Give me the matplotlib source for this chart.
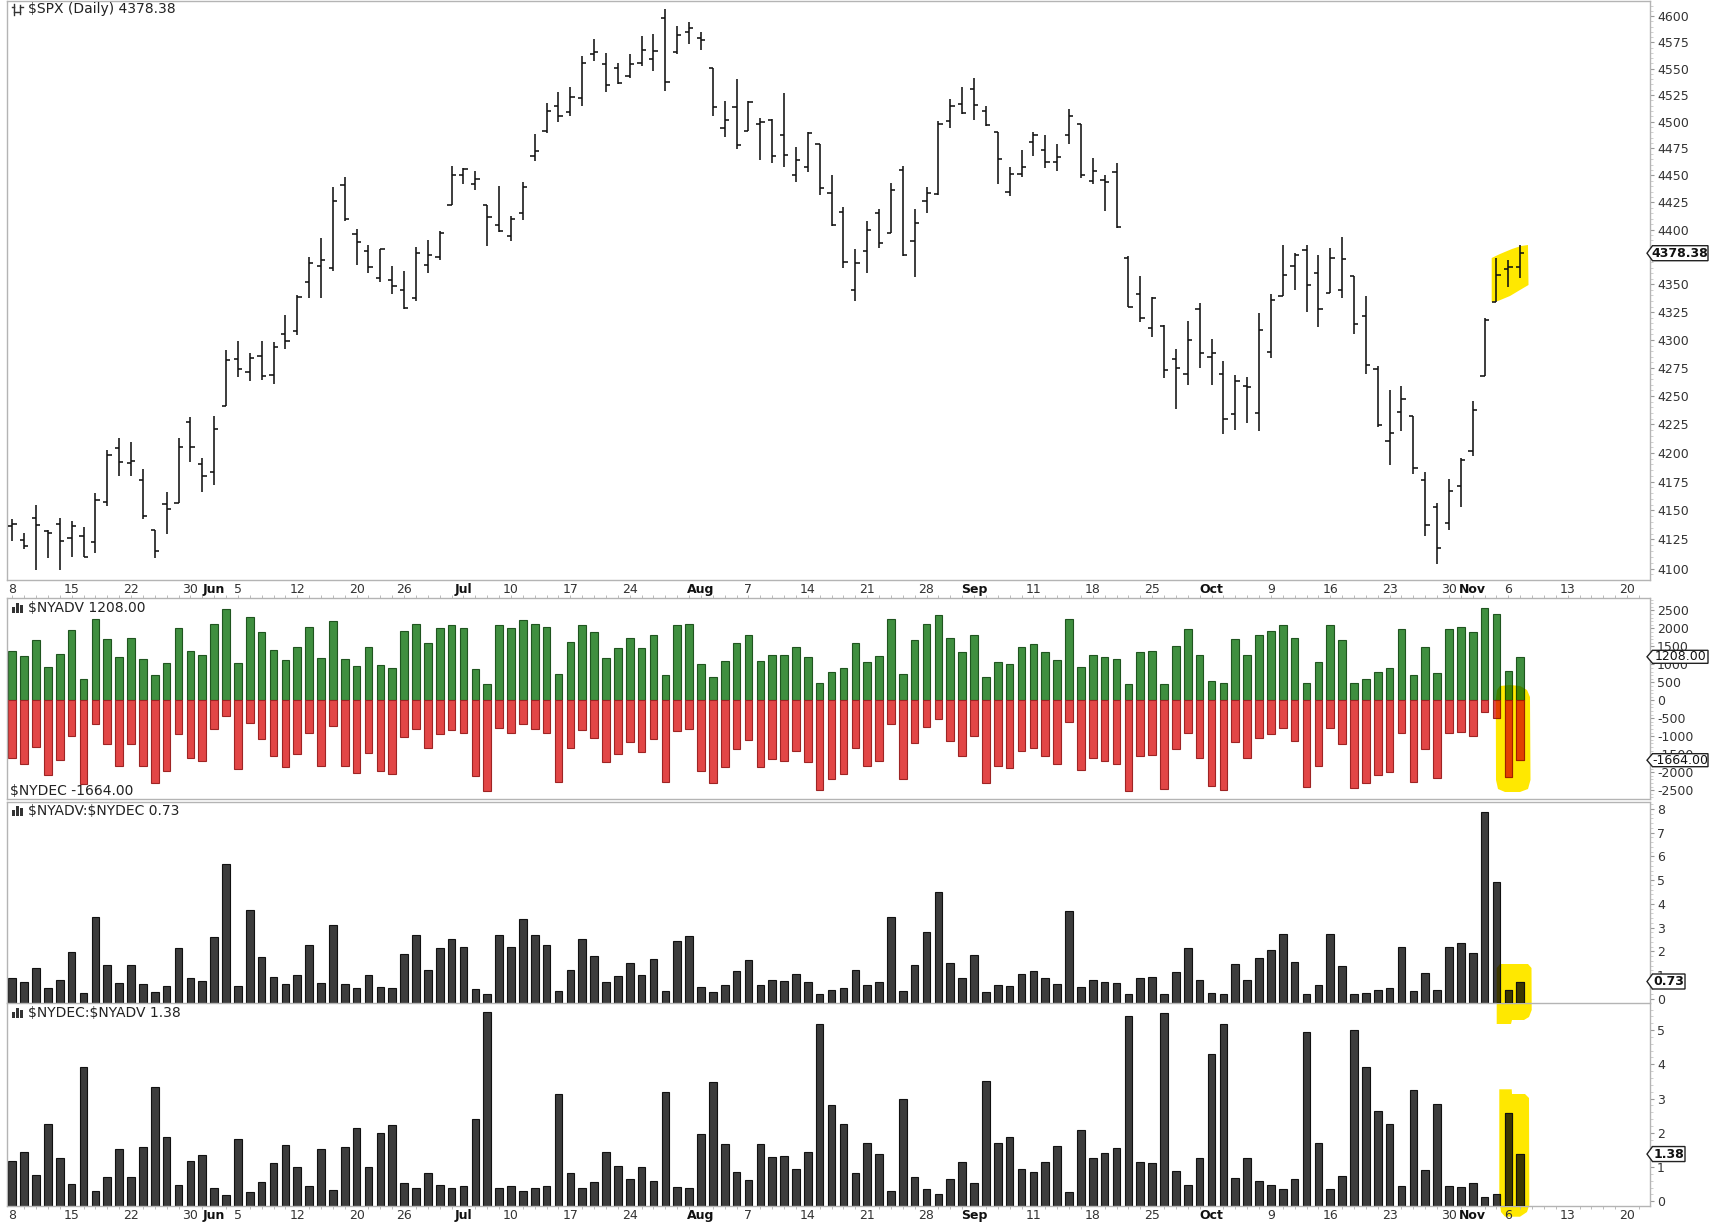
import numpy as np
import pandas as pd
import matplotlib
matplotlib.use('Agg')
import matplotlib.pyplot as plt
from matplotlib.collections import LineCollection
from matplotlib.patches import Polygon, Rectangle
from matplotlib.lines import Line2D
from matplotlib.transforms import Affine2D, IdentityTransform
from matplotlib.ticker import FixedLocator, FuncFormatter, NullFormatter

# ---------------- data ----------------
opens = [4136.98, 4124.25, 4143.74, 4132.24, 4138.54, 4126.65, 4127.95, 4122.85, 4157.68, 4204.15,
         4190.78, 4176.80, 4132.96, 4155.71, 4156.16, 4226.71, 4190.74, 4183.03, 4241.01, 4282.99,
         4271.34, 4285.47, 4268.69, 4304.88, 4308.32, 4352.61, 4366.29, 4365.33, 4440.95, 4396.11,
         4380.01, 4355.40, 4354.17, 4344.84, 4337.36, 4367.48, 4374.94, 4422.44, 4450.48, 4442.04,
         4422.62, 4404.54, 4394.23, 4415.55, 4467.69, 4491.50, 4514.61, 4508.86, 4521.78, 4563.87,
         4554.38, 4550.16, 4543.39, 4555.19, 4558.96, 4598.26, 4565.75, 4584.82, 4578.83, 4550.93,
         4494.27, 4513.96, 4491.58, 4498.03, 4501.57, 4487.16, 4450.69, 4458.13, 4478.87, 4433.79,
         4416.32, 4344.88, 4380.28, 4415.33, 4396.44, 4455.16, 4389.38, 4426.03, 4432.75, 4500.34,
         4517.01, 4530.60, 4510.06, 4490.35, 4434.55, 4451.30, 4480.98, 4473.27, 4462.65, 4487.78,
         4497.98, 4445.13, 4445.41, 4452.81, 4374.36, 4341.74, 4310.62, 4312.88, 4282.63, 4269.65,
         4328.18, 4284.52, 4269.75, 4233.83, 4259.31, 4234.79, 4289.02, 4339.75, 4366.59, 4380.94,
         4360.49, 4342.37, 4345.23, 4357.35, 4321.36, 4273.85, 4210.40, 4235.79, 4232.42, 4175.99,
         4152.94, 4139.39, 4171.33, 4201.27, 4268.26, 4334.23, 4364.27, 4366.21]
highs = [4142.30, 4130.35, 4154.28, 4132.80, 4143.74, 4141.25, 4135.54, 4164.67, 4202.20, 4212.91,
         4209.22, 4185.68, 4132.96, 4165.74, 4212.87, 4231.10, 4195.44, 4232.43, 4290.67, 4299.28,
         4288.33, 4299.19, 4298.01, 4322.62, 4340.13, 4375.37, 4391.82, 4439.20, 4448.47, 4400.15,
         4386.22, 4382.25, 4366.55, 4362.06, 4384.42, 4390.35, 4398.39, 4458.48, 4456.46, 4454.06,
         4422.62, 4440.39, 4412.60, 4443.64, 4488.34, 4517.38, 4527.76, 4532.85, 4562.30, 4578.43,
         4564.74, 4555.00, 4563.41, 4580.62, 4582.47, 4607.07, 4590.16, 4594.22, 4584.62, 4550.93,
         4519.49, 4540.34, 4519.84, 4503.31, 4502.44, 4527.37, 4476.23, 4490.33, 4478.87, 4449.95,
         4421.17, 4381.82, 4407.55, 4418.59, 4443.18, 4458.30, 4418.46, 4439.56, 4500.14, 4521.65,
         4532.26, 4541.25, 4514.29, 4490.35, 4457.81, 4473.53, 4490.77, 4487.11, 4479.39, 4511.99,
         4497.98, 4466.36, 4449.85, 4461.03, 4375.70, 4357.40, 4338.51, 4313.01, 4292.07, 4317.27,
         4333.15, 4300.58, 4281.15, 4268.50, 4267.13, 4324.10, 4341.73, 4385.46, 4378.64, 4385.85,
         4377.10, 4383.33, 4393.57, 4357.35, 4339.54, 4276.56, 4255.84, 4259.38, 4232.42, 4183.60,
         4156.70, 4177.47, 4195.55, 4245.64, 4319.72, 4373.62, 4372.21, 4386.26]
lows = [4123.81, 4116.65, 4098.92, 4109.29, 4099.12, 4110.27, 4109.86, 4113.62, 4153.50, 4180.20,
        4179.68, 4142.54, 4109.29, 4129.73, 4156.16, 4192.18, 4166.15, 4171.64, 4241.01, 4266.82,
        4263.09, 4263.96, 4261.07, 4291.70, 4304.37, 4337.85, 4337.85, 4362.60, 4407.44, 4367.19,
        4360.14, 4351.82, 4341.34, 4328.08, 4335.00, 4360.22, 4371.97, 4422.44, 4442.29, 4436.61,
        4385.05, 4397.40, 4389.92, 4408.46, 4463.23, 4489.36, 4499.56, 4504.90, 4514.59, 4557.48,
        4527.56, 4535.79, 4541.29, 4552.42, 4547.58, 4528.56, 4564.01, 4573.14, 4567.53, 4505.75,
        4485.54, 4474.55, 4491.15, 4464.39, 4461.33, 4457.92, 4443.98, 4453.44, 4432.19, 4403.55,
        4364.83, 4335.31, 4360.30, 4382.77, 4396.44, 4375.55, 4356.29, 4414.98, 4431.68, 4493.59,
        4507.39, 4501.35, 4496.01, 4442.38, 4430.46, 4448.38, 4467.89, 4456.83, 4453.52, 4478.69,
        4447.21, 4442.11, 4416.61, 4401.38, 4329.17, 4316.49, 4302.70, 4265.98, 4238.63, 4260.21,
        4274.86, 4260.21, 4216.45, 4220.48, 4225.91, 4219.55, 4283.79, 4339.64, 4345.34, 4325.43,
        4311.97, 4342.37, 4337.54, 4305.50, 4269.69, 4223.03, 4189.22, 4219.43, 4181.42, 4127.90,
        4103.78, 4132.94, 4153.12, 4197.74, 4268.26, 4334.23, 4347.53, 4355.41]
closes = [4138.12, 4119.17, 4137.64, 4130.62, 4124.08, 4136.28, 4109.90, 4158.77, 4198.05, 4191.98,
          4192.63, 4145.58, 4115.24, 4151.28, 4205.45, 4205.52, 4179.83, 4221.02, 4282.37, 4273.79,
          4283.85, 4267.52, 4293.93, 4298.86, 4338.93, 4369.01, 4372.59, 4425.84, 4409.59, 4388.71,
          4365.69, 4381.89, 4348.33, 4328.82, 4378.41, 4376.86, 4396.44, 4450.38, 4455.59, 4446.82,
          4411.59, 4398.95, 4409.53, 4439.26, 4472.16, 4510.04, 4505.42, 4522.79, 4554.98, 4565.72,
          4534.87, 4536.34, 4554.64, 4567.46, 4566.75, 4537.41, 4582.23, 4588.96, 4576.73, 4513.39,
          4501.89, 4478.03, 4518.44, 4499.38, 4467.71, 4468.83, 4464.05, 4489.72, 4437.86, 4404.33,
          4370.36, 4369.71, 4399.77, 4387.55, 4436.01, 4376.31, 4405.71, 4433.31, 4497.63, 4514.87,
          4507.66, 4515.77, 4496.83, 4465.48, 4451.14, 4457.49, 4487.46, 4461.90, 4467.44, 4505.10,
          4450.32, 4453.53, 4443.95, 4402.20, 4330.00, 4320.06, 4337.44, 4273.53, 4274.51, 4299.70,
          4288.05, 4288.39, 4229.45, 4263.75, 4258.19, 4308.50, 4335.66, 4358.24, 4376.95, 4349.61,
          4327.78, 4373.63, 4373.20, 4314.60, 4278.00, 4224.16, 4217.04, 4247.68, 4186.77, 4137.23,
          4117.37, 4166.82, 4193.80, 4237.86, 4317.78, 4358.34, 4365.98, 4378.38]

adv = [1370, 1230, 1676, 920, 1296, 1944, 590, 2268, 1713, 1190,
       1741, 1150, 690, 1040, 2009, 1370, 1259, 2111, 2528, 1050,
       2305, 1898, 1407, 1120, 1481, 2037, 1180, 2194, 1150, 950,
       1481, 990, 910, 1935, 2111, 1593, 2009, 2083, 2009, 870,
       455, 2083, 2009, 2231, 2120, 2037, 720, 1630, 2083, 1889,
       1185, 1444, 1731, 1444, 1815, 710, 2083, 2111, 1000, 660,
       1100, 1593, 1815, 1100, 1259, 1259, 1481, 1194, 480, 775,
       900, 1593, 1074, 1222, 2268, 735, 1676, 2120, 2380, 1722,
       1333, 1824, 655, 1074, 1000, 1491, 1565, 1333, 1111, 2268,
       935, 1259, 1194, 1148, 465, 1333, 1370, 450, 1518, 1972,
       1259, 550, 480, 1713, 1259, 1824, 1935, 2083, 1741, 488,
       1074, 2083, 1667, 490, 590, 790, 889, 1972, 695, 1481,
       755, 1972, 2046, 1898, 2574, 2389, 820, 1208]
dec = [1593, 1778, 1287, 2074, 1648, 991, 2315, 660, 1213, 1815,
       1222, 1815, 2305, 1963, 944, 1593, 1685, 809, 446, 1917,
       618, 1074, 1556, 1852, 1481, 907, 1815, 703, 1815, 2028,
       1463, 1963, 2037, 1028, 790, 1333, 944, 833, 917, 2093,
       2518, 780, 917, 668, 795, 900, 2259, 1333, 833, 1037,
       1704, 1481, 1148, 1444, 1074, 2259, 857, 797, 1963, 2305,
       1852, 1352, 1111, 1852, 1630, 1680, 1407, 1722, 2491, 2185,
       2037, 1320, 1815, 1685, 660, 2185, 1176, 750, 528, 1130,
       1546, 990, 2305, 1815, 1889, 1407, 1333, 1546, 1778, 615,
       1935, 1593, 1685, 1778, 2518, 1546, 1518, 2472, 1361, 917,
       1593, 2370, 2491, 1167, 1593, 1056, 944, 760, 1130, 2417,
       1815, 760, 1213, 2444, 2305, 2074, 2000, 898, 2259, 1361,
       2148, 898, 870, 991, 327, 487, 2120, 1664]

holidays = ['2023-05-29', '2023-06-19', '2023-07-04', '2023-09-04', '2023-11-23']
tick_dates = ['2023-05-08', '2023-05-15', '2023-05-22', '2023-05-30', '2023-06-01', '2023-06-05',
              '2023-06-12', '2023-06-20', '2023-06-26', '2023-07-03', '2023-07-10', '2023-07-17',
              '2023-07-24', '2023-08-01', '2023-08-07', '2023-08-14', '2023-08-21', '2023-08-28',
              '2023-09-01', '2023-09-11', '2023-09-18', '2023-09-25', '2023-10-02', '2023-10-09',
              '2023-10-16', '2023-10-23', '2023-10-30', '2023-11-01', '2023-11-06', '2023-11-13',
              '2023-11-20']
tick_text = ['8', '15', '22', '30', 'Jun', '5', '12', '20', '26', 'Jul', '10', '17', '24', 'Aug',
             '7', '14', '21', '28', 'Sep', '11', '18', '25', 'Oct', '9', '16', '23', '30', 'Nov',
             '6', '13', '20']
price_ticks = list(range(4100, 4601, 25))
price_hidden = [4375]          # covered by the last-value tag in the reference

# ---------------- derived ----------------
opens, highs, lows, closes = map(np.array, (opens, highs, lows, closes))
adv = np.array(adv, float)
dec = np.array(dec, float)
r_ad = adv / dec
r_da = dec / adv
n = len(closes)
x = np.arange(n)

days = pd.bdate_range('2023-05-08', '2023-11-30')
days = days[~days.isin(pd.to_datetime(holidays))]
index_of = {d: i for i, d in enumerate(days)}
tick_pos = [index_of[pd.Timestamp(d)] for d in tick_dates]

# ---------------- figure ----------------
W, H = 1714, 1225
plt.rcParams['font.family'] = ['DejaVu Sans']
fig = plt.figure(figsize=(W / 100, H / 100), dpi=100, facecolor='white')
PIX = Affine2D().scale(1, -1).translate(0, H)   # top-left pixel coords -> display

L, R = 7, 1650
def add_ax(top, bottom):
    a = fig.add_axes([L / W, 1 - bottom / H, (R - L) / W, (bottom - top) / H])
    a.set_facecolor('none')
    return a

ax1 = add_ax(1, 580)
ax2 = add_ax(598, 799)
ax3 = add_ax(802, 1003)
ax4 = add_ax(1003, 1206)
axes = [ax1, ax2, ax3, ax4]

XL = (-0.446, 137.93)
SPINE = '#b4b4b4'
TXT = '#333333'
FS_TICK = 9
FS_TITLE = 10
for a in axes:
    a.set_xlim(*XL)
    for s in a.spines.values():
        s.set_color(SPINE)
        s.set_linewidth(1.0)
    a.yaxis.tick_right()
    a.tick_params(axis='y', which='major', length=3, width=0.8, color='#999999', pad=2,
                  labelsize=FS_TICK, labelcolor=TXT)
    a.tick_params(axis='y', which='minor', length=2, width=0.6, color='#c8c8c8')
    a.set_xticks([])
ax4.spines['top'].set_visible(False)

YEL = np.array([255, 232, 0]) / 255.0
def mult(c):
    rgb = np.array(matplotlib.colors.to_rgb(c))
    return tuple(rgb * YEL)

def ypoly(ax, pts, zorder=1):
    p = Polygon(pts, closed=True, transform=PIX, facecolor=tuple(YEL), edgecolor='none',
                zorder=zorder, clip_on=False)
    ax.add_artist(p)
    return p

def date_labels(ax):
    ax.set_xticks(tick_pos)
    ax.set_xticklabels(tick_text)
    ax.tick_params(axis='x', which='major', length=0, pad=2.5, labelsize=FS_TICK,
                   labelcolor=TXT)
    for lb in ax.get_xticklabels():
        if lb.get_text().isalpha():
            lb.set_fontweight('bold')
            lb.set_color('#111111')

# ---- panel 1: OHLC ----
tk = 0.36
segs = []
for i in range(n):
    segs.append([(x[i], lows[i]), (x[i], highs[i])])
    segs.append([(x[i] - tk, opens[i]), (x[i], opens[i])])
    segs.append([(x[i], closes[i]), (x[i] + tk, closes[i])])
ax1.add_collection(LineCollection(segs, colors='#111111', linewidths=1.15, zorder=3))
ax1.set_yscale('log')
ax1.set_ylim(4090.3, 4614.5)
ax1.yaxis.set_major_locator(FixedLocator(price_ticks))
ax1.yaxis.set_major_formatter(
    FuncFormatter(lambda v, p: '' if round(v) in price_hidden else f'{v:.0f}'))
ax1.yaxis.set_minor_locator(FixedLocator(np.arange(4095, 4615, 5)))
ax1.yaxis.set_minor_formatter(NullFormatter())
ypoly(ax1, [(1491.7, 258), (1500, 254), (1512, 249), (1521, 246), (1528, 245), (1528.5, 285),
            (1520, 290), (1510, 296), (1498, 301), (1491.7, 302)])
date_labels(ax1)

# ---- panel 2: ADV / DEC ----
GREEN, GREEN_E = '#3f8f3f', '#1f551f'
RED, RED_E = '#e24646', '#9e2424'
BW = 0.64
ax2.bar(x, adv, width=BW, color=GREEN, edgecolor=GREEN_E, linewidth=0.8, zorder=2)
ax2.bar(x, -dec, width=BW, color=RED, edgecolor=RED_E, linewidth=0.8, zorder=2)
ax2.set_ylim(-2742, 2842)
ax2.yaxis.set_major_locator(FixedLocator(np.arange(-2500, 2501, 500)))
ax2.yaxis.set_major_formatter(FuncFormatter(lambda v, p: f'{v:.0f}'))
ax2.yaxis.set_minor_locator(FixedLocator(np.arange(-2700, 2801, 100)))
ax2.yaxis.set_minor_formatter(NullFormatter())
p2 = ypoly(ax2, [(1497, 690), (1500, 686), (1510, 685), (1520, 686), (1527, 690), (1530, 697),
                 (1530.5, 780), (1528, 789), (1520, 792), (1505, 792), (1498, 789), (1496, 780),
                 (1495.8, 700)])
sel = x >= 124
for b in ax2.bar(x[sel], adv[sel], width=BW, color=mult(GREEN), edgecolor=mult(GREEN_E),
                 linewidth=0.8, zorder=3):
    b.set_clip_path(p2)
for b in ax2.bar(x[sel], -dec[sel], width=BW, color=mult(RED), edgecolor=mult(RED_E),
                 linewidth=0.8, zorder=3):
    b.set_clip_path(p2)
ax2.xaxis.set_minor_locator(FixedLocator(np.arange(0, 138)))
ax2.tick_params(axis='x', which='minor', top=True, bottom=False, length=2.5, width=0.6,
                color='#b0b0b0', direction='out')

# ---- panel 3 & 4: ratios ----
DARK, DARK_E = '#3c3c3c', '#111111'
def ratio_panel(ax, vals, ylo, yhi, ticks, poly_pts):
    ax.bar(x, vals - ylo, bottom=ylo, width=BW, color=DARK, edgecolor=DARK_E, linewidth=0.8,
           zorder=2)
    ax.set_ylim(ylo, yhi)
    ax.yaxis.set_major_locator(FixedLocator(ticks))
    ax.yaxis.set_major_formatter(FuncFormatter(lambda v, p: f'{v:.0f}'))
    ax.yaxis.set_minor_locator(FixedLocator(np.arange(0, yhi, 0.2)))
    ax.yaxis.set_minor_formatter(NullFormatter())
    pp = ypoly(ax, poly_pts)
    for b in ax.bar(x[sel], vals[sel] - ylo, bottom=ylo, width=BW, color=mult(DARK),
                    edgecolor=DARK_E, linewidth=0.8, zorder=3):
        b.set_clip_path(pp)

ratio_panel(ax3, r_ad, -0.18, 8.29, np.arange(0, 9),
            [(1500, 964), (1528, 964), (1531.5, 968), (1531.7, 1010), (1529, 1017), (1524, 1020),
             (1512, 1020), (1511, 1024), (1496.7, 1024), (1496.7, 968)])
ratio_panel(ax4, r_da, -0.14, 5.79, np.arange(0, 6),
            [(1499.3, 1089.3), (1511.7, 1089.3), (1512, 1094), (1525, 1094), (1529, 1098),
             (1529.3, 1205), (1527, 1212), (1520, 1216.7), (1505, 1216.7), (1501, 1212),
             (1499.3, 1200)])
date_labels(ax4)
ax4.xaxis.set_minor_locator(FixedLocator(np.arange(0, 138)))
ax4.tick_params(axis='x', which='minor', bottom=True, length=2.5, width=0.6,
                color='#b0b0b0', direction='out')

# ---------------- labels ----------------
def ftext(xp, yp, s, **kw):
    fig.text(xp / W, 1 - yp / H, s, va='center', ha='left', **kw)

ftext(28, 9.5, r'\$SPX (Daily) 4378.38', fontsize=FS_TITLE, color='#222222')
ftext(28, 608, r'\$NYADV 1208.00', fontsize=FS_TITLE, color='#222222')
ftext(10, 791, r'\$NYDEC -1664.00', fontsize=FS_TITLE, color='#222222')
ftext(28, 811, r'\$NYADV:\$NYDEC 0.73', fontsize=FS_TITLE, color='#222222')
ftext(28, 1013, r'\$NYDEC:\$NYADV 1.38', fontsize=FS_TITLE, color='#222222')

def hist_icon(yc):
    for (x0, h) in [(12, 6), (16, 10), (20, 8)]:
        fig.add_artist(Rectangle((x0, yc + 5 - h), 2.6, h, transform=PIX, facecolor='#333333',
                                 edgecolor='none'))
for yc in (608, 811, 1013):
    hist_icon(yc)
# small OHLC icon for the price panel
for (xc, lo, hi, o, c) in [(14, 4, 15, 7, 12), (20, 5, 14, 12, 7)]:
    fig.add_artist(Line2D([xc, xc], [lo, hi], transform=PIX, color='#333', lw=1))
    fig.add_artist(Line2D([xc - 2.5, xc], [o, o], transform=PIX, color='#333', lw=1))
    fig.add_artist(Line2D([xc, xc + 2.5], [c, c], transform=PIX, color='#333', lw=1))

# value tags on the right axis
def tag(ax, value, text, bold, x1, h, fs):
    yd = ax.transData.transform((0, value))[1]
    x0 = 1647
    verts = [(x0, yd), (x0 + 5.5, yd + h / 2), (x1, yd + h / 2), (x1, yd - h / 2),
             (x0 + 5.5, yd - h / 2)]
    fig.add_artist(Polygon(verts, closed=True, transform=IdentityTransform(), facecolor='white',
                           edgecolor='#222222', linewidth=1.0, zorder=10))
    fig.text(((x0 + 5.5 + x1) / 2) / W, yd / H, text, ha='center', va='center',
             fontsize=fs, fontweight='bold' if bold else 'normal', color='#111111', zorder=11)

tag(ax1, closes[-1], f'{closes[-1]:.2f}', True, 1708, 15, 9)
tag(ax2, adv[-1], f'{adv[-1]:.2f}', False, 1708, 13, 9)
tag(ax2, -dec[-1], f'{-dec[-1]:.2f}', False, 1708, 13, 9)
tag(ax3, r_ad[-1], f'{r_ad[-1]:.2f}', True, 1685, 15, 9)
tag(ax4, r_da[-1], f'{r_da[-1]:.2f}', True, 1685, 15, 9)

fig.savefig('out.png', dpi=100, facecolor='white')
